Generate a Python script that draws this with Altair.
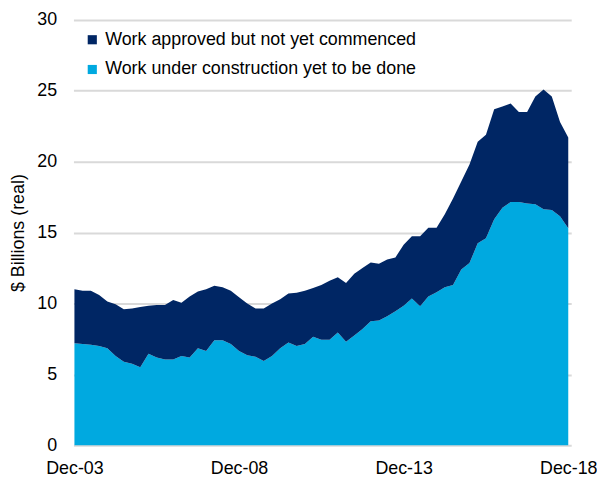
import altair as alt
import pandas as pd

quarters = list(range(61))
total = [11.0, 10.9, 10.9, 10.6, 10.15, 9.95, 9.6, 9.65, 9.75, 9.85, 9.9, 9.9, 10.25, 10.05, 10.5,
         10.85, 11.0, 11.25, 11.15, 10.9, 10.45, 10.0, 9.65, 9.65, 10.0, 10.3, 10.7, 10.75, 10.9,
         11.1, 11.3, 11.6, 11.85, 11.45, 12.1, 12.5, 12.9, 12.8, 13.1, 13.25, 14.15, 14.75, 14.75,
         15.35, 15.35, 16.3, 17.4, 18.6, 19.8, 21.4, 21.9, 23.7, 23.9, 24.1, 23.5, 23.5, 24.6, 25.1,
         24.6, 22.8, 21.7]
under_construction = [7.2, 7.15, 7.1, 7.0, 6.85, 6.3, 5.9, 5.75, 5.5, 6.45, 6.2, 6.05, 6.05, 6.3, 6.2,
                      6.85, 6.65, 7.4, 7.4, 7.15, 6.65, 6.35, 6.25, 5.95, 6.3, 6.85, 7.25, 7.0, 7.15,
                      7.65, 7.45, 7.45, 7.95, 7.3, 7.75, 8.2, 8.75, 8.8, 9.1, 9.45, 9.85, 10.35, 9.8,
                      10.5, 10.8, 11.15, 11.3, 12.4, 12.85, 14.25, 14.6, 15.95, 16.75, 17.15, 17.15,
                      17.05, 17.0, 16.65, 16.6, 16.15, 15.3]
tick_positions = [0, 20, 40, 60]
tick_labels = ["Dec-03", "Dec-08", "Dec-13", "Dec-18"]

s_app = "Work approved but not yet commenced"
s_uc = "Work under construction yet to be done"

rows = []
for q, t, u in zip(quarters, total, under_construction):
    rows.append({"q": q, "series": s_uc, "value": u, "ord": 0})
    rows.append({"q": q, "series": s_app, "value": round(t - u, 3), "ord": 1})
df = pd.DataFrame(rows)

label_expr = " : ".join(
    f"datum.value == {p} ? '{l}'" for p, l in zip(tick_positions, tick_labels)
) + " : ''"

font = "Liberation Sans"
fs = 18

chart = alt.Chart(df).mark_area(interpolate="linear").encode(
    x=alt.X("q:Q", scale=alt.Scale(domain=[-0.12, 60.36], nice=False, zero=False),
            axis=alt.Axis(values=tick_positions, labelExpr=label_expr, title=None,
                          grid=False, ticks=False, domain=False, labelFontSize=fs,
                          labelFont=font, labelColor="#000000", labelPadding=14,
                          labelOverlap=False, labelFlush=False)),
    y=alt.Y("value:Q", stack="zero", scale=alt.Scale(domain=[0, 30], nice=False),
            axis=alt.Axis(values=[0, 5, 10, 15, 20, 25, 30], title="$ Billions (real)",
                          titleFontSize=fs, titleFont=font, titleFontWeight="normal",
                          titleColor="#000000", titlePadding=9,
                          labelFontSize=fs, labelFont=font, labelColor="#000000",
                          labelPadding=17, grid=True, gridColor="#D9D9D9", gridWidth=2,
                          ticks=False, domain=False)),
    color=alt.Color("series:N",
                    scale=alt.Scale(domain=[s_app, s_uc], range=["#002664", "#00A9E0"]),
                    legend=alt.Legend(title=None, orient="none", legendX=10, legendY=11,
                                      symbolType="square", symbolSize=85,
                                      symbolStrokeWidth=0, labelFontSize=fs, labelFont=font,
                                      labelColor="#000000", rowPadding=12, labelOffset=4,
                                      padding=0, labelLimit=500)),
    order=alt.Order("ord:Q", sort="ascending"),
).properties(
    width=502, height=429,
    autosize=alt.AutoSizeParams(type="none"),
    padding={"left": 66, "top": 10, "right": 26, "bottom": 36},
).configure_view(stroke=None)

chart.save("out.html", embed_options={"renderer": "svg", "actions": False})
